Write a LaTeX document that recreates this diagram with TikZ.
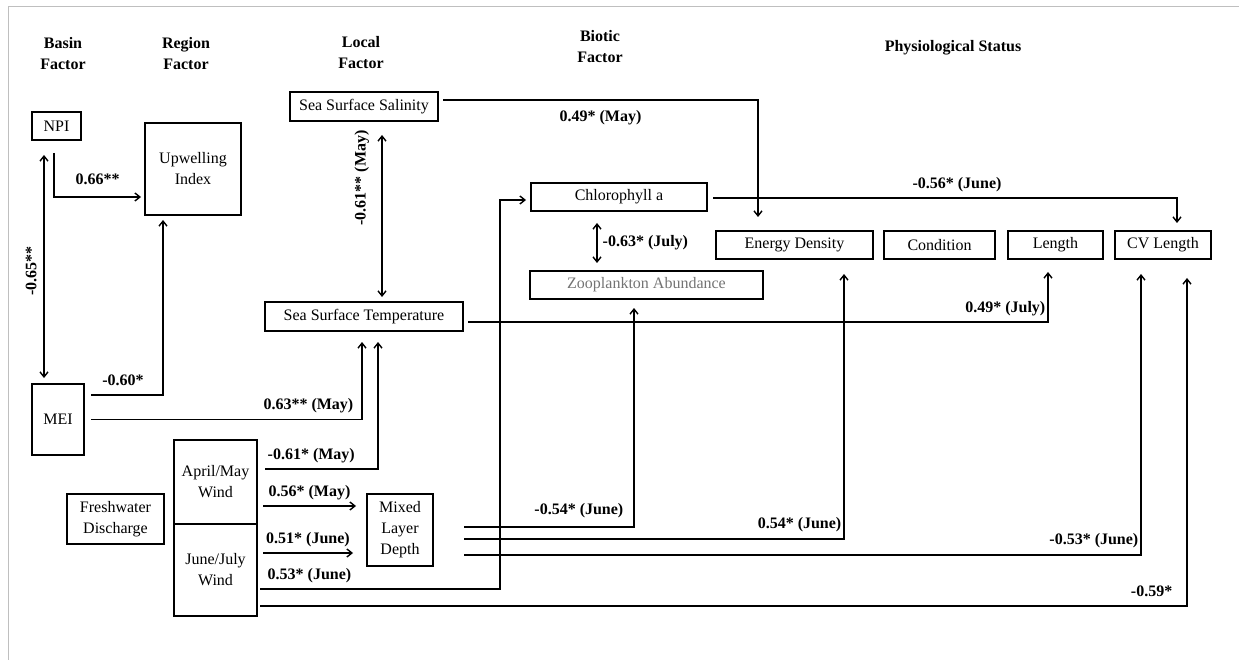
\documentclass[tikz,border=0pt]{standalone}
\usepackage{fontspec}
\setmainfont{Liberation Serif}
\usetikzlibrary{arrows.meta, positioning, calc}

\begin{document}
\begin{tikzpicture}[
  x=1pt, y=-1pt,
  factorBox/.style={draw, line width=1.8pt, inner sep=0pt, outer sep=0pt, align=center, font=\fontsize{16}{21}\selectfont},
  headLabel/.style={font=\fontsize{16}{21}\selectfont\bfseries, align=center},
  coefLabel/.style={font=\fontsize{16}{19}\selectfont\bfseries, inner xsep=2pt, inner ysep=5pt, text depth=4pt},
  oneWay/.style={line width=1.4pt, -{Straight Barb[length=5pt, width=8pt]}},
  twoWay/.style={line width=1.4pt, {Straight Barb[length=5pt, width=8pt]}-{Straight Barb[length=5pt, width=8pt]}},
  node distance=11pt
]
\useasboundingbox (0,0) rectangle (1239,660);
\draw[gray!50, line width=1pt] (8,660) -- (8,7) -- (1239,7);

\node[headLabel] (hBasin) at (63,53.5) {Basin\\Factor};
\node[headLabel] (hRegion) at (186,53.5) {Region\\Factor};
\node[headLabel] (hLocal) at (361,53) {Local\\Factor};
\node[headLabel] (hBiotic) at (600,46.5) {Biotic\\Factor};
\node[headLabel] (hStatus) at (953,48) {Physiological Status};

\node[factorBox, minimum width=49pt, minimum height=28pt] (npi) at (56.5,126) {NPI};
\node[factorBox, minimum width=96pt, minimum height=92pt] (upw) at (193,169) {Upwelling\\Index};
\node[factorBox, minimum width=148pt, minimum height=29pt] (sss) at (364,106.5) {Sea Surface Salinity};
\node[factorBox, minimum width=198pt, minimum height=29pt] (sst) at (364,316.5) {Sea Surface Temperature};
\node[factorBox, minimum width=52pt, minimum height=71pt] (mei) at (58,419.5) {MEI};
\node[factorBox, minimum width=97pt, minimum height=50pt] (fwd) at (115.5,519) {Freshwater\\Discharge};
\node[factorBox, minimum width=83pt, minimum height=84pt] (amWind) at (215.5,482) {April/May\\Wind};
\node[factorBox, minimum width=83pt, minimum height=92pt, below=0pt of amWind] (jjWind) {June/July\\Wind};
\node[factorBox, minimum width=66pt, minimum height=72pt] (mld) at (400,530) {Mixed\\Layer\\Depth};
\node[factorBox, minimum width=176pt, minimum height=28pt] (chl) at (619,197) {Chlorophyll a};
\node[factorBox, minimum width=233pt, minimum height=28pt, text=black!55] (zoo) at (646.5,285) {Zooplankton Abundance};
\node[factorBox, minimum width=157pt, minimum height=28pt] (ed) at (794.5,245) {Energy Density};
\node[factorBox, minimum width=111pt, minimum height=28pt, right=11pt of ed] (cond) {Condition};
\node[factorBox, minimum width=95pt, minimum height=28pt, right=13pt of cond] (len) {Length};
\node[factorBox, minimum width=96pt, minimum height=28pt, right=12pt of len] (cvl) {CV Length};

\draw[oneWay] ([xshift=-2.5pt,yshift=-13pt]npi.south) |- ([xshift=-4pt,yshift=-28pt]upw.west) node[coefLabel, pos=0.75, above=3pt] {0.66**};
\draw[twoWay] ([xshift=-12.5pt,yshift=-15pt]npi.south) -- ([xshift=-14pt,yshift=6pt]mei.north);
\node[coefLabel, rotate=90, inner ysep=2pt] (rNpiMei) at (33,271) {-0.65**};
\draw[twoWay] ([xshift=18pt,yshift=-14pt]sss.south) -- ([xshift=18pt,yshift=5pt]sst.north);
\node[coefLabel, rotate=90, inner ysep=2pt] (rSssSst) at (362,178) {-0.61** (May)};
\draw[oneWay] ([xshift=7pt,yshift=-11pt]mei.north east) -| ([xshift=-30pt,yshift=-5pt]upw.south) node[coefLabel, pos=0.25, above, xshift=-4pt] {-0.60*};
\draw[oneWay] ([xshift=7pt]mei.east) -| ([xshift=-2pt,yshift=-11pt]sst.south) node[coefLabel, pos=0.5, above left, xshift=-6pt] {0.63** (May)};
\draw[oneWay] ([xshift=8pt,yshift=13pt]amWind.east) -| ([xshift=14pt,yshift=-11pt]sst.south) node[coefLabel, pos=0, above right] {-0.61* (May)};
\draw[oneWay] ([xshift=6pt,yshift=-24pt]amWind.east) -- ([xshift=-11pt,yshift=24pt]mld.west) node[coefLabel, midway, above] {0.56* (May)};
\draw[oneWay] ([xshift=6pt,yshift=17pt]jjWind.east) -- ([xshift=-14pt,yshift=-23pt]mld.west) node[coefLabel, midway, above] {0.51* (June)};
\draw[oneWay] ([xshift=3pt,yshift=-19pt]jjWind.east) -| ([xshift=-31pt,yshift=-3pt]chl.west) node[coefLabel, pos=0, above right, xshift=5pt] {0.53* (June)} -- ([xshift=-5pt,yshift=-3pt]chl.west);
\draw[oneWay] ([xshift=3pt,yshift=-36pt]jjWind.east) -| ([xshift=24pt,yshift=-19pt]cvl.south) node[coefLabel, pos=0.5, above left, xshift=-12pt] {-0.59*};
\draw[oneWay] ([xshift=31pt,yshift=3pt]mld.east) -| ([xshift=-12.5pt,yshift=-9pt]zoo.south) node[coefLabel, pos=0.5, above left, xshift=-8pt, yshift=3pt] {-0.54* (June)};
\draw[oneWay] ([xshift=31pt,yshift=-9pt]mld.east) -| ([xshift=49.5pt,yshift=-15pt]ed.south) node[coefLabel, pos=0.5, above left, yshift=1pt] {0.54* (June)};
\draw[oneWay] ([xshift=31pt,yshift=-25pt]mld.east) -| ([xshift=-22pt,yshift=-15pt]cvl.south) node[coefLabel, pos=0.5, above left, yshift=1pt] {-0.53* (June)};
\draw[oneWay] ([xshift=5pt,yshift=6.5pt]sss.east) -| ([xshift=-36.5pt,yshift=14pt]ed.north) node[coefLabel, pos=0.25, below=5pt] {0.49* (May)};
\draw[oneWay] ([xshift=6pt,yshift=-1pt]chl.east) -| ([xshift=14pt,yshift=8pt]cvl.north) node[coefLabel, pos=0.25, above, xshift=12pt] {-0.56* (June)};
\draw[twoWay] ([xshift=-22pt,yshift=-12pt]chl.south) -- ([xshift=-49.5pt,yshift=8pt]zoo.north) node[coefLabel, midway, right, xshift=3pt] {-0.63* (July)};
\draw[oneWay] ([xshift=5pt,yshift=-5.5pt]sst.east) -| ([xshift=-7.5pt,yshift=-13pt]len.south) node[coefLabel, pos=0.5, above left] {0.49* (July)};
\end{tikzpicture}
\end{document}
